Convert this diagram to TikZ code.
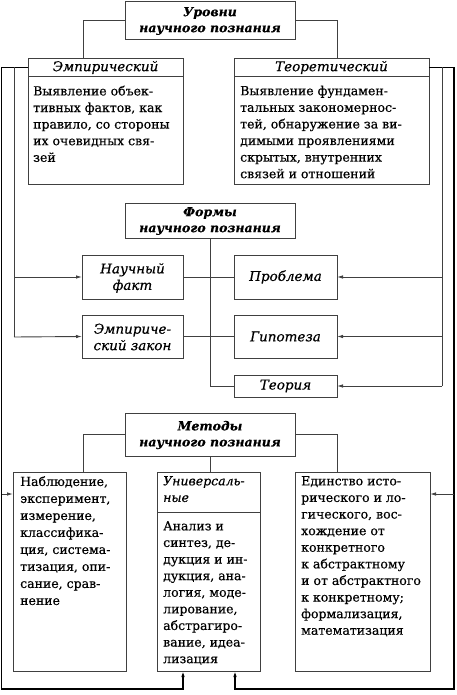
\documentclass[tikz,border=0pt]{standalone}
\usepackage{fontspec}
\setmainfont{DejaVu Serif}[FakeBold=0.45]
\usetikzlibrary{arrows.meta}
\tikzset{
  box/.style={draw=black!75, line width=0.9pt, rectangle, inner sep=0pt, outer sep=0pt, anchor=north west},
  body/.style={font=\fontsize{12.5}{16.6}\selectfont, align=left, anchor=north west, inner sep=0pt},
  bodyl/.style={font=\fontsize{12.5}{17}\selectfont, align=left, anchor=north west, inner sep=0pt},
  ttl/.style={font=\fontsize{12.5}{16}\selectfont\bfseries\itshape, align=center, inner sep=0pt},
  itm/.style={font=\fontsize{13.5}{16.5}\selectfont\itshape, align=center, inner sep=0pt},
  hdr/.style={font=\fontsize{13.5}{16}\selectfont\itshape, inner sep=0pt},
  unih/.style={font=\fontsize{12.5}{16.6}\selectfont\itshape, align=left, anchor=north west, inner sep=0pt},
  ln/.style={draw=black!75, line width=0.9pt},
  outerln/.style={draw=black, line width=1.4pt},
  arr/.style={-{Latex[length=6pt,width=3.5pt]}},
}
\begin{document}
\begin{tikzpicture}[x=1pt,y=-1pt]
\useasboundingbox[fill=white] (0,0) rectangle (456,695);

% Levels
\node[box,minimum width=170pt,minimum height=38pt] (lev) at (125,1) {};
\node[ttl] (levt) at (210,21) {Уровни\\научного познания};

\node[box,minimum width=155pt,minimum height=126pt] (emp) at (28,58) {};
\draw[ln] ([yshift=-18pt]emp.north west) -- ([yshift=-18pt]emp.north east);
\node[hdr] (empt) at (105.5,67.5) {Эмпирический};
\node[body] (empb) at (33,85.5) {Выявление объек-\\тивных фактов, как\\правило, со стороны\\их очевидных свя-\\зей};

\node[box,minimum width=195pt,minimum height=126pt] (teo) at (234,58) {};
\draw[ln] ([yshift=-18pt]teo.north west) -- ([yshift=-18pt]teo.north east);
\node[hdr] (teot) at (331.5,67.5) {Теоретический};
\node[body] (teob) at (240,85.5) {Выявление фундамен-\\тальных закономернос-\\тей, обнаружение за ви-\\димыми проявлениями\\скрытых, внутренних\\связей и отношений};

\draw[ln] (lev.west) -| ([xshift=-22.5pt]emp.north);
\draw[ln] (lev.east) -| ([xshift=5.5pt]teo.north);

% Forms
\node[box,minimum width=170pt,minimum height=35pt] (frm) at (125,203) {};
\node[ttl] (frmt) at (210,221) {Формы\\научного познания};

\node[box,minimum width=101pt,minimum height=44pt] (nf) at (82,255) {};
\node[itm] (nft) at (132.5,278) {Научный\\факт};
\node[box,minimum width=101pt,minimum height=43pt] (ez) at (82,315) {};
\node[itm] (ezt) at (132.5,337) {Эмпириче-\\ский закон};
\node[box,minimum width=103pt,minimum height=44pt] (pr) at (234,255) {};
\node[itm] (prt) at (285.5,277) {Проблема};
\node[box,minimum width=103pt,minimum height=43pt] (gi) at (234,315) {};
\node[itm] (git) at (285.5,336.5) {Гипотеза};
\node[box,minimum width=103pt,minimum height=22pt] (te) at (234,375) {};
\node[itm] (tet) at (285.5,386) {Теория};

\draw[ln] (frm.south) |- (te.west);
\draw[ln] (nf.east) -- (pr.west);
\draw[ln] (ez.east) -- (gi.west);

% Methods
\node[box,minimum width=170pt,minimum height=43pt] (met) at (125,413) {};
\node[ttl] (mett) at (210,435) {Методы\\научного познания};

\node[box,minimum width=113pt,minimum height=199pt] (nab) at (13,472) {};
\node[bodyl] (nabt) at (20,476) {Наблюдение,\\эксперимент,\\измерение,\\классифика-\\ция, система-\\тизация, опи-\\сание, срав-\\нение};

\node[box,minimum width=103pt,minimum height=199pt] (uni) at (157,472) {};
\draw[ln] ([yshift=-40pt]uni.north west) -- ([yshift=-40pt]uni.north east);
\node[unih] (unit) at (163,476) {Универсаль-\\ные};
\node[body] (unib) at (163,521) {Анализ и\\синтез, де-\\дукция и ин-\\дукция, ана-\\логия, моде-\\лирование,\\абстрагиро-\\вание, идеа-\\лизация};

\node[box,minimum width=135pt,minimum height=199pt] (ed) at (295,472) {};
\node[body] (edt) at (301,476) {Единство исто-\\рического и ло-\\гического, вос-\\хождение от\\конкретного\\к абстрактному\\и от абстрактного\\к конкретному;\\формализация,\\математизация};

\draw[ln] (met.west) -| ([xshift=13.5pt]nab.north);
\draw[ln] (met.east) -| ([xshift=-25.5pt]ed.north);
\draw[ln] (met.south) -- (met.south |- uni.north);

% Left feedback lines
\coordinate (lo1) at (1.5,67.5);
\coordinate (lo2) at (1.5,689);
\coordinate (lo3) at (183,689);
\draw[outerln,arr] ([yshift=-9.5pt]emp.north west) -- (lo1) -- (lo2) -- (lo3) -- (lo3 |- uni.south);
\coordinate (li1) at (14,67.5);
\coordinate (li2) at (14,337);
\draw[ln] (li1) -- (li2);
\draw[ln,arr] (li1 |- nf.west) -- (nf.west);
\draw[ln,arr] (li2) -- (ez.west);
\draw[ln,arr] (lo1 |- 0,494) -- (nab.west |- 0,494);

% Right feedback lines
\coordinate (ro1) at (454,67.5);
\coordinate (ro2) at (454,689);
\coordinate (ro3) at (235,689);
\draw[outerln,arr] ([yshift=-9.5pt]teo.north east) -- (ro1) -- (ro2) -- (ro3) -- (ro3 |- uni.south);
\coordinate (ri1) at (442,67.5);
\coordinate (ri2) at (442,386);
\draw[ln] (ri1) -- (ri2);
\draw[ln,arr] (ri1 |- pr.east) -- (pr.east);
\draw[ln,arr] (ri1 |- gi.east) -- (gi.east);
\draw[ln,arr] (ri2) -- (te.east);
\draw[ln,arr] (ro1 |- 0,494) -- (ed.east |- 0,494);
\end{tikzpicture}
\end{document}
